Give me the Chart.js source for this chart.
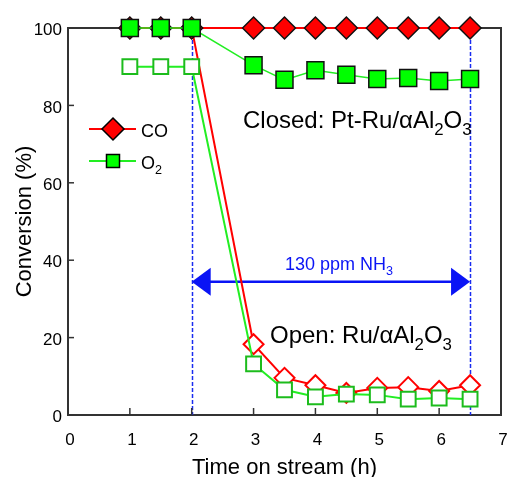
<!DOCTYPE html>
<html>
<head>
<meta charset="utf-8">
<script src="https://cdn.jsdelivr.net/npm/chart.js@4/dist/chart.umd.min.js"></script>
<style>
  html, body { margin: 0; padding: 0; background: #fff; }
  canvas { display: block; }
</style>
</head>
<body>
<canvas id="convChart" width="508" height="477"></canvas>
<script>
// Time on stream (h)
const times = [1, 1.5, 2, 3, 3.5, 4, 4.5, 5, 5.5, 6, 6.5];
// Closed: Pt-Ru/aAl2O3
const closedCO = [100, 100, 100, 100, 100, 100, 100, 100, 100, 100, 100];
const closedO2 = [100, 100, 100, 90.4, 86.6, 89.1, 87.9, 86.8, 87.1, 86.3, 86.8];
// Open: Ru/aAl2O3
const openCO = [100, 100, 100, 18.3, 9.6, 7.7, 5.7, 7.0, 7.2, 6.2, 7.7];
const openO2 = [90, 90, 90, 13.2, 6.5, 4.7, 5.4, 5.2, 4.1, 4.4, 4.1];
// NH3 dosing window
const nh3Start = 2;
const nh3End = 6.5;
const arrowLevel = 34.4;

const FONT = '"Liberation Sans", Arial, sans-serif';
const toXY = (ys) => times.map((t, i) => ({ x: t, y: ys[i] }));

// small rich-text helper for subscripts: parts = [[text, isSub], ...]
function drawRich(ctx, parts, x, y, size, color) {
  ctx.save();
  ctx.fillStyle = color;
  ctx.textBaseline = 'alphabetic';
  ctx.textAlign = 'left';
  parts.forEach(([txt, sub]) => {
    const s = sub ? size * 0.7 : size;
    ctx.font = s + 'px ' + FONT;
    ctx.fillText(txt, x, y + (sub ? size * 0.28 : 0));
    x += ctx.measureText(txt).width;
  });
  ctx.restore();
}

const decorations = {
  id: 'decorations',
  beforeDatasetsDraw(chart) {
    const { ctx, chartArea: a, scales: { x, y } } = chart;
    ctx.save();
    // dashed guide lines at NH3 on/off
    ctx.strokeStyle = '#1a2cf0';
    ctx.lineWidth = 1.5;
    ctx.setLineDash([4, 2]);
    [nh3Start, nh3End].forEach(v => {
      const px = Math.round(x.getPixelForValue(v)) + 0.5;
      ctx.beginPath();
      ctx.moveTo(px, a.top);
      ctx.lineTo(px, a.bottom);
      ctx.stroke();
    });
    ctx.setLineDash([]);

    // frame (top and right)
    ctx.strokeStyle = '#333';
    ctx.lineWidth = 2;
    ctx.beginPath();
    ctx.moveTo(a.left, a.top);
    ctx.lineTo(a.right, a.top);
    ctx.lineTo(a.right, a.bottom);
    ctx.stroke();

    // inward ticks
    ctx.lineWidth = 1.5;
    x.ticks.forEach(t => {
      const px = x.getPixelForValue(t.value);
      ctx.beginPath();
      ctx.moveTo(px, a.bottom);
      ctx.lineTo(px, a.bottom - 7);
      ctx.stroke();
    });
    y.ticks.forEach(t => {
      const py = y.getPixelForValue(t.value);
      ctx.beginPath();
      ctx.moveTo(a.left, py);
      ctx.lineTo(a.left + 6, py);
      ctx.stroke();
    });

    // double arrow
    const x1 = x.getPixelForValue(nh3Start);
    const x2 = x.getPixelForValue(nh3End);
    const ay = y.getPixelForValue(arrowLevel);
    ctx.strokeStyle = '#0a14f5';
    ctx.fillStyle = '#0a14f5';
    ctx.lineWidth = 2.5;
    ctx.beginPath();
    ctx.moveTo(x1 + 10, ay);
    ctx.lineTo(x2 - 10, ay);
    ctx.stroke();
    ctx.beginPath();
    ctx.moveTo(x1, ay);
    ctx.lineTo(x1 + 19, ay - 14);
    ctx.lineTo(x1 + 19, ay + 14);
    ctx.closePath();
    ctx.fill();
    ctx.beginPath();
    ctx.moveTo(x2, ay);
    ctx.lineTo(x2 - 19, ay - 14);
    ctx.lineTo(x2 - 19, ay + 14);
    ctx.closePath();
    ctx.fill();
    ctx.restore();

    drawRich(ctx, [['130 ppm NH', 0], ['3', 1]], 285, 270, 18, '#0a14f5');
  },
  afterDraw(chart) {
    const { ctx } = chart;
    ctx.save();
    // legend
    ctx.lineWidth = 2;
    ctx.strokeStyle = '#ff0000';
    ctx.beginPath(); ctx.moveTo(89, 129); ctx.lineTo(136, 129); ctx.stroke();
    ctx.fillStyle = '#ff0000';
    ctx.strokeStyle = '#000';
    ctx.lineWidth = 1.5;
    ctx.beginPath();
    ctx.moveTo(113, 118); ctx.lineTo(124, 129); ctx.lineTo(113, 140); ctx.lineTo(102, 129);
    ctx.closePath(); ctx.fill(); ctx.stroke();

    ctx.lineWidth = 2;
    ctx.strokeStyle = '#22ee22';
    ctx.beginPath(); ctx.moveTo(89, 161); ctx.lineTo(136, 161); ctx.stroke();
    ctx.fillStyle = '#00ff00';
    ctx.strokeStyle = '#000';
    ctx.lineWidth = 1.5;
    ctx.fillRect(106.5, 154.5, 13, 13);
    ctx.strokeRect(106.5, 154.5, 13, 13);
    ctx.restore();

    drawRich(ctx, [['CO', 0]], 141, 137, 18, '#000');
    drawRich(ctx, [['O', 0], ['2', 1]], 141, 169, 18, '#000');

    drawRich(ctx, [['Closed: Pt-Ru/\u03b1Al', 0], ['2', 1], ['O', 0], ['3', 1]], 243, 128, 24, '#000');
    drawRich(ctx, [['Open: Ru/\u03b1Al', 0], ['2', 1], ['O', 0], ['3', 1]], 270, 343, 24, '#000');
  }
};

Chart.defaults.font.family = FONT;
Chart.defaults.color = '#000';

new Chart(document.getElementById('convChart'), {
  type: 'line',
  data: {
    datasets: [
      { label: 'O2 closed', data: toXY(closedO2), order: 0, borderColor: '#22ee22', borderWidth: 1.5, pointStyle: 'rect', pointRadius: 12, pointBackgroundColor: '#00ff00', pointBorderColor: '#111', pointBorderWidth: 1.5, clip: false },
      { label: 'CO closed', data: toXY(closedCO), order: 1, borderColor: '#ff0000', borderWidth: 2, pointStyle: 'rectRot', pointRadius: 11, pointBackgroundColor: '#ff0000', pointBorderColor: '#111', pointBorderWidth: 1.5, clip: false },
      { label: 'O2 open', data: toXY(openO2), order: 2, borderColor: '#22ee22', borderWidth: 2, pointStyle: 'rect', pointRadius: 10.5, pointBackgroundColor: '#fff', pointBorderColor: '#1cbc1c', pointBorderWidth: 2, clip: false },
      { label: 'CO open', data: toXY(openCO), order: 3, borderColor: '#ff0000', borderWidth: 2, pointStyle: 'rectRot', pointRadius: 10, pointBackgroundColor: '#fff', pointBorderColor: '#ff0000', pointBorderWidth: 2, clip: false },
    ],
  },
  options: {
    responsive: false,
    animation: false,
    layout: { autoPadding: false, padding: { left: 0, right: 7, top: 28, bottom: 0 } },
    plugins: { legend: { display: false }, tooltip: { enabled: false } },
    elements: { line: { tension: 0 } },
    scales: {
      x: {
        type: 'linear', min: 0, max: 7,
        afterFit: (s) => { s.height = 62; s.paddingLeft = 0; s.paddingRight = 0; },
        grid: { display: false, drawTicks: false, tickLength: 0 },
        border: { display: true, color: '#333', width: 2 },
        ticks: { stepSize: 1, padding: 15, labelOffset: 2, font: { size: 17 }, color: '#000' },
        title: { display: true, text: 'Time on stream (h)', font: { size: 22 }, padding: { top: 0, bottom: -4 }, color: '#000' },
      },
      y: {
        min: 0, max: 100,
        afterFit: (s) => { s.width = 68; s.paddingTop = 0; s.paddingBottom = 0; },
        grid: { display: false, drawTicks: false, tickLength: 0 },
        border: { display: true, color: '#333', width: 2 },
        ticks: { stepSize: 20, padding: 6, labelOffset: 2.5, font: { size: 17 }, color: '#000' },
        title: { display: true, text: 'Conversion (%)', font: { size: 22 }, padding: { top: 12, bottom: 0 }, color: '#000' },
      },
    },
  },
  plugins: [decorations],
});
</script>
</body>
</html>
